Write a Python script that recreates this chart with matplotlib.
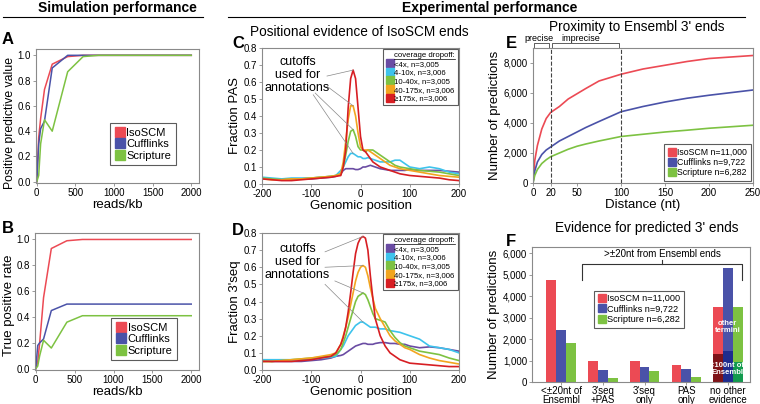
import numpy as np
import matplotlib
matplotlib.use("Agg")
import matplotlib.pyplot as plt
from matplotlib.lines import Line2D

plt.rcParams['font.family'] = ['Liberation Sans', 'DejaVu Sans']
plt.rcParams['axes.unicode_minus'] = False

# ---------- data ----------
reads = [0, 25, 50, 100, 200, 400, 600, 800, 1000, 1500, 2000]
ppv_isoscm = [0, 0.35, 0.5, 0.73, 0.93, 0.99, 1.0, 1.0, 1.0, 1.0, 1.0]
ppv_cuff = [0, 0.3, 0.42, 0.48, 0.9, 1.0, 1.0, 1.0, 1.0, 1.0, 1.0]
ppv_scrip = [0, 0.05, 0.3, 0.49, 0.4, 0.87, 0.99, 1.0, 1.0, 1.0, 1.0]
tpr_isoscm = [0, 0.05, 0.2, 0.55, 0.93, 0.99, 1.0, 1.0, 1.0, 1.0, 1.0]
tpr_cuff = [0, 0.18, 0.2, 0.23, 0.45, 0.5, 0.5, 0.5, 0.5, 0.5, 0.5]
tpr_scrip = [0, 0.02, 0.1, 0.22, 0.16, 0.36, 0.41, 0.41, 0.41, 0.41, 0.41]

pos = [-200, -180, -160, -140, -120, -100, -80, -60, -50, -40, -35, -30, -25, -20, -15, -10, -5, 0,
       5, 10, 15, 20, 25, 30, 40, 50, 60, 70, 80, 90, 100, 120, 140, 160, 180, 200]
pas_lt4 = [0.035, 0.03, 0.025, 0.025, 0.03, 0.03, 0.035, 0.04, 0.045, 0.06, 0.08, 0.09, 0.09, 0.09, 0.09, 0.085, 0.085, 0.09,
           0.1, 0.1, 0.105, 0.11, 0.105, 0.1, 0.09, 0.085, 0.08, 0.08, 0.08, 0.08, 0.085, 0.08, 0.08, 0.08, 0.075, 0.07]
pas_4_10 = [0.04, 0.035, 0.03, 0.035, 0.035, 0.035, 0.04, 0.045, 0.05, 0.08, 0.1, 0.13, 0.16, 0.18, 0.18, 0.17, 0.16, 0.16,
            0.15, 0.15, 0.155, 0.15, 0.145, 0.14, 0.13, 0.13, 0.13, 0.14, 0.14, 0.12, 0.1, 0.09, 0.1, 0.09, 0.07, 0.06]
pas_10_40 = [0.035, 0.03, 0.025, 0.03, 0.03, 0.035, 0.04, 0.045, 0.05, 0.06, 0.1, 0.17, 0.25, 0.31, 0.32, 0.28, 0.22, 0.2,
             0.2, 0.19, 0.2, 0.2, 0.2, 0.19, 0.17, 0.15, 0.13, 0.11, 0.1, 0.095, 0.09, 0.08, 0.075, 0.07, 0.06, 0.05]
pas_40_175 = [0.03, 0.025, 0.025, 0.03, 0.03, 0.035, 0.04, 0.045, 0.05, 0.06, 0.13, 0.25, 0.38, 0.46, 0.46, 0.4, 0.3, 0.22,
              0.2, 0.2, 0.2, 0.19, 0.18, 0.17, 0.15, 0.13, 0.11, 0.1, 0.09, 0.085, 0.08, 0.07, 0.06, 0.05, 0.045, 0.04]
pas_175 = [0.03, 0.025, 0.02, 0.02, 0.025, 0.03, 0.035, 0.04, 0.045, 0.05, 0.1, 0.2, 0.45, 0.62, 0.67, 0.62, 0.45, 0.28,
           0.2, 0.19, 0.17, 0.15, 0.13, 0.12, 0.1, 0.09, 0.08, 0.07, 0.06, 0.055, 0.05, 0.045, 0.04, 0.035, 0.025, 0.02]

seq_lt4 = [0.055, 0.05, 0.05, 0.05, 0.05, 0.055, 0.06, 0.07, 0.08, 0.085, 0.09, 0.1, 0.11, 0.12, 0.13, 0.14, 0.145, 0.15,
           0.155, 0.155, 0.15, 0.15, 0.15, 0.155, 0.16, 0.16, 0.155, 0.155, 0.15, 0.15, 0.14, 0.13, 0.135, 0.13, 0.12, 0.11]
seq_4_10 = [0.06, 0.06, 0.06, 0.06, 0.06, 0.065, 0.07, 0.075, 0.08, 0.12, 0.14, 0.17, 0.2, 0.22, 0.24, 0.26, 0.27, 0.28,
            0.28, 0.27, 0.26, 0.25, 0.25, 0.25, 0.24, 0.24, 0.23, 0.225, 0.22, 0.21, 0.2, 0.18, 0.14, 0.13, 0.12, 0.1]
seq_10_40 = [0.05, 0.05, 0.055, 0.06, 0.065, 0.07, 0.075, 0.08, 0.09, 0.12, 0.16, 0.2, 0.25, 0.3, 0.35, 0.4, 0.43, 0.44,
             0.45, 0.44, 0.41, 0.37, 0.33, 0.3, 0.29, 0.28, 0.23, 0.19, 0.16, 0.14, 0.13, 0.11, 0.1, 0.09, 0.07, 0.055]
seq_40_175 = [0.05, 0.05, 0.055, 0.06, 0.065, 0.07, 0.08, 0.09, 0.1, 0.15, 0.2, 0.25, 0.31, 0.38, 0.45, 0.52, 0.57, 0.6,
              0.61, 0.6, 0.55, 0.48, 0.42, 0.36, 0.3, 0.25, 0.2, 0.17, 0.15, 0.13, 0.12, 0.09, 0.07, 0.055, 0.045, 0.035]
seq_175 = [0.05, 0.05, 0.05, 0.05, 0.055, 0.06, 0.07, 0.08, 0.1, 0.15, 0.19, 0.25, 0.34, 0.45, 0.57, 0.68, 0.74, 0.77,
           0.78, 0.77, 0.7, 0.55, 0.42, 0.3, 0.2, 0.14, 0.1, 0.08, 0.06, 0.05, 0.04, 0.035, 0.03, 0.025, 0.02, 0.02]

cov_labels = ["<4x, n=3,005", "4-10x, n=3,006", "10-40x, n=3,005", "40-175x, n=3,006", "\u2265175x, n=3,006"]
cov_colors = ["#6A4CA3", "#3EC3EC", "#7DC242", "#F2A51F", "#D71E23"]

dist = [0, 2, 5, 10, 15, 20, 30, 40, 50, 60, 75, 100, 125, 150, 175, 200, 250]
near_isoscm = [0, 1500, 2500, 3600, 4300, 4700, 5100, 5600, 5950, 6300, 6800, 7250, 7600, 7850, 8100, 8300, 8500]
near_cuff = [0, 800, 1400, 1900, 2200, 2400, 2800, 3100, 3400, 3700, 4100, 4750, 5100, 5400, 5650, 5850, 6200]
near_scrip = [0, 500, 900, 1300, 1550, 1750, 2000, 2250, 2450, 2600, 2800, 3100, 3250, 3400, 3520, 3650, 3850]

evid_cats = ["<\u00b120nt of\nEnsembl", "3'seq\n+PAS", "3'seq\nonly", "PAS\nonly", "no other\nevidence"]
evid_isoscm = [4750, 980, 990, 790, 3480]
evid_cuff = [2430, 560, 700, 600, 5330]
evid_scrip = [1800, 170, 500, 220, 3500]
near100 = [1300, 1450, 950]  # dark part of "no other evidence" bars

tools = ["IsoSCM", "Cufflinks", "Scripture"]
tool_colors = ["#EC4A54", "#4A52A8", "#7DC242"]
dark_colors = ["#7E1318", "#1E2C8E", "#129A4E"]
tools_n = ["IsoSCM n=11,000", "Cufflinks n=9,722", "Scripture n=6,282"]

# ---------- layout ----------
W, H = 760, 404
fig = plt.figure(figsize=(W / 100, H / 100), dpi=100)


def px_axes(l, t, r, b):
    return fig.add_axes([l / W, 1 - b / H, (r - l) / W, (b - t) / H])


def style(ax):
    for s in ax.spines.values():
        s.set_color("#8a8a8a"); s.set_linewidth(0.8)
    ax.tick_params(labelsize=7, length=2, width=0.6, color="#8a8a8a", pad=1.5)


def sq_legend(ax, labels, colors, ms=6, **kw):
    h = [Line2D([], [], marker="s", ls="", ms=ms, mfc=c, mec=c) for c in colors]
    lg = ax.legend(h, labels, handletextpad=0.1, borderpad=0.4, labelspacing=0.15,
                   handlelength=1.0, fancybox=False, **kw)
    lg.get_frame().set_edgecolor("#333333"); lg.get_frame().set_linewidth(0.8)
    return lg


def ptext(x, y, s, **kw):
    fig.text(x / W, 1 - y / H, s, **kw)


# headers
ptext(117, 8, "Simulation performance", fontsize=10, fontweight="bold", ha="center", va="center")
ptext(490, 8, "Experimental performance", fontsize=10, fontweight="bold", ha="center", va="center")
fig.add_artist(Line2D([3 / W, 203 / W], [1 - 17 / H] * 2, color="k", lw=0.8))
fig.add_artist(Line2D([228 / W, 745 / W], [1 - 17 / H] * 2, color="k", lw=0.8))
for lab, x, y in [("A", 8, 39), ("B", 8, 229), ("C", 238, 44), ("D", 238, 231), ("E", 511, 44), ("F", 511, 242)]:
    ptext(x, y, lab, fontsize=12, fontweight="bold", ha="center", va="center")
ptext(359, 32, "Positional evidence of IsoSCM ends", fontsize=9.8, ha="center", va="center")
ptext(637, 27, "Proximity to Ensembl 3' ends", fontsize=9.8, ha="center", va="center")
ptext(647, 228, "Evidence for predicted 3' ends", fontsize=9.8, ha="center", va="center")

# A / B
for (l, t, r, b), ys, ylab, lab_fs, lab_y, anchor in [
        ((36, 49, 199, 183), (ppv_isoscm, ppv_cuff, ppv_scrip), "Positive predictive value", 8.8, 0.45, (0.89, 0.09)),
        ((35, 233, 199, 370), (tpr_isoscm, tpr_cuff, tpr_scrip), "True positive rate", 9.5, 0.47, (0.9, 0.03))]:
    ax = px_axes(l, t, r, b)
    for y, c in zip(ys, tool_colors):
        ax.plot(reads, y, color=c, lw=1.1)
    ax.set_xlim(-10, 2100); ax.set_ylim(-0.01, 1.05)
    ax.set_xticks([0, 500, 1000, 1500, 2000]); ax.set_yticks(np.arange(0, 1.01, 0.2))
    ax.yaxis.set_major_formatter(matplotlib.ticker.FormatStrFormatter("%.1f"))
    style(ax)
    ax.set_ylabel(ylab, fontsize=lab_fs)
    ax.yaxis.set_label_coords(-0.12, lab_y)
    ax.set_xlabel("reads/kb", fontsize=9.5, labelpad=1)
    sq_legend(ax, tools, tool_colors, loc="lower right", fontsize=8, bbox_to_anchor=anchor, ms=7)

# C / D
cd_legends = []
for (l, t, r, b), ys, ylab, peakx, txt_y, starts in [
        ((262, 48, 459, 184), (pas_lt4, pas_4_10, pas_10_40, pas_40_175, pas_175), "Fraction PAS", -15, 0.75,
         [(-68, 0.635), (-68, 0.575), (-92, 0.535), (-96, 0.525)]),
        ((262, 233, 459, 370), (seq_lt4, seq_4_10, seq_10_40, seq_40_175, seq_175), "Fraction 3'seq", 5, 0.74,
         [(-72, 0.69), (-72, 0.6), (-52, 0.52), (-72, 0.5)])]:
    ax = px_axes(l, t, r, b)
    for y, c in zip(ys, cov_colors):
        ax.plot(pos, y, color=c, lw=1.2)
    ax.set_xlim(-200, 200); ax.set_ylim(0, 0.8)
    ax.set_xticks([-200, -100, 0, 100, 200]); ax.set_yticks(np.arange(0, 0.81, 0.1))
    ax.yaxis.set_major_formatter(matplotlib.ticker.FormatStrFormatter("%.1f"))
    style(ax)
    ax.set_ylabel(ylab, fontsize=9.5, labelpad=2)
    ax.set_xlabel("Genomic position", fontsize=9.5, labelpad=1)
    ax.text(-128, txt_y, "cutoffs\nused for\nannotations", fontsize=9, ha="center", va="top",
            linespacing=1.1)
    # leader lines to peaks
    i = pos.index(peakx)
    for (sx, sy), y in zip(starts, (ys[4], ys[3], ys[2], ys[1])):
        ax.plot([sx, peakx], [sy, y[i]], color="#888888", lw=0.5)
    lg = sq_legend(ax, cov_labels, cov_colors, loc="upper right", fontsize=5.6, title="coverage dropoff:",
                   title_fontsize=5.6, borderaxespad=0.15, ms=5.5)
    lg._legend_box.align = "right"
    cd_legends.append(lg)

# E
ax = px_axes(533, 48, 753, 183)
for y, c in zip((near_isoscm, near_cuff, near_scrip), tool_colors):
    ax.plot(dist, y, color=c, lw=1.2)
ax.axvline(20, color="#444444", ls="--", lw=0.8)
ax.axvline(100, color="#444444", ls="--", lw=0.8)
ax.set_xlim(0, 250); ax.set_ylim(0, 9000)
ax.set_xticks([0, 20, 50, 100, 150, 200, 250]); ax.set_yticks(range(0, 8001, 2000))
ax.yaxis.set_major_formatter(matplotlib.ticker.FuncFormatter(lambda v, p: f"{int(v):,}"))
style(ax)
ax.set_ylabel("Number of predictions", fontsize=9.5, labelpad=2)
ax.set_xlabel("Distance (nt)", fontsize=9.5, labelpad=1)
for x0, x1, lab in [(1, 18, "precise"), (22, 98, "imprecise")]:
    ax.plot([x0, x0, x1, x1], [9000, 9300, 9300, 9000], color="#444444", lw=0.6, clip_on=False)
    ax.text((x0 + x1) / 2 - (3 if x1 < 20 else 6), 9300, lab, fontsize=6.5, ha="center", va="bottom")
sq_legend(ax, tools_n, tool_colors, loc="lower right", fontsize=6.3, borderaxespad=0.25)

# F
ax = px_axes(532, 247, 750, 382)
xi = np.arange(len(evid_cats))
bw = 0.235
for k, (y, c) in enumerate(zip((evid_isoscm, evid_cuff, evid_scrip), tool_colors)):
    ax.bar(xi + (k - 1) * bw, y, width=bw, color=c, lw=0)
    ax.bar(xi[-1] + (k - 1) * bw, near100[k], width=bw, color=dark_colors[k], lw=0)
ax.set_xlim(-0.7, 4.53); ax.set_ylim(0, 6300)
ax.set_xticks(xi); ax.set_xticklabels(evid_cats, linespacing=0.85)
ax.set_yticks(range(0, 6001, 1000))
ax.yaxis.set_major_formatter(matplotlib.ticker.FuncFormatter(lambda v, p: f"{int(v):,}"))
style(ax)
ax.tick_params(axis="x", labelsize=7, pad=1)
ax.set_ylabel("Number of predictions", fontsize=9.5, labelpad=2)
ax.plot([0.5, 0.5, 4.34, 4.34], [4750, 5530, 5530, 4750], color="#333333", lw=0.8)
ax.plot([2.42, 2.42], [5530, 5700], color="#333333", lw=0.8)
ax.text(2.42, 5720, ">\u00b120nt from Ensembl ends", fontsize=7, ha="center", va="bottom")
ax.text(3.99, 2550, "other\ntermini", fontsize=5.5, color="white", fontweight="bold", ha="center", va="center",
        linespacing=0.95)
ax.text(3.99, 620, "<100nt of\nEnsembl", fontsize=5.5, color="white", fontweight="bold", ha="center", va="center",
        linespacing=0.95)
sq_legend(ax, tools_n, tool_colors, loc="center", fontsize=6.6, bbox_to_anchor=(0.49, 0.54))

# underline the legend titles of C / D
fig.canvas.draw()
for lg in cd_legends:
    bb = lg.get_title().get_window_extent()
    fig.add_artist(Line2D([bb.x0 / W, bb.x1 / W], [(bb.y0 + 0.5) / H] * 2, color="k", lw=0.5))

fig.savefig("out.png", dpi=100)
